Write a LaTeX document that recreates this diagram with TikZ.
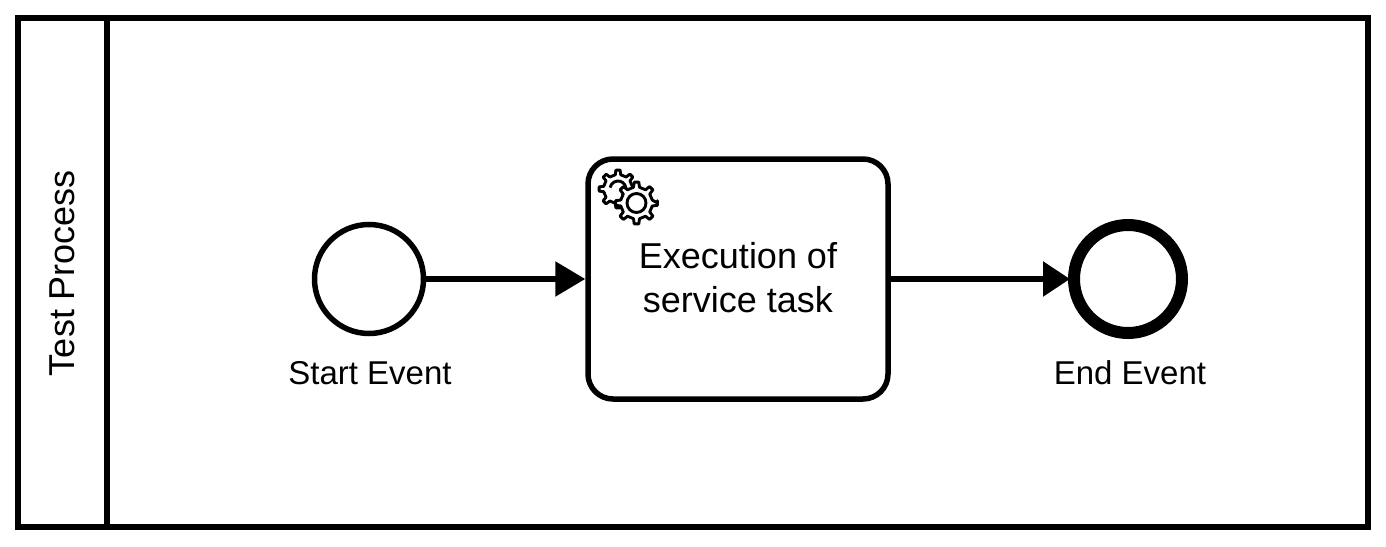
\documentclass[tikz,border=0pt]{standalone}
\usepackage{fontspec}
\setmainfont{Liberation Sans}
\usetikzlibrary{arrows.meta}
\newcommand{\gearpath}[4]{% outer r, root r, teeth, extra options
  \pgfmathsetmacro{\gstep}{360/#3}
  \draw[gearline,#4] (0:#1) \foreach \i in {1,...,#3}{
    \pgfextra{\pgfmathsetmacro{\ga}{(\i-1)*\gstep}}
    -- ({\ga-0.14*\gstep}:#1) -- ({\ga+0.14*\gstep}:#1)
    -- ({\ga+0.24*\gstep}:#2) -- ({\ga+0.76*\gstep}:#2)
  } -- cycle;
}
\tikzset{
  x=1pt,y=-1pt,
  frameline/.style={draw=black,line width=6pt,line join=miter},
  startevent/.style={circle,draw=black,fill=white,line width=5.5pt,minimum size=109pt,inner sep=0pt},
  endevent/.style={circle,draw=black,fill=white,line width=12pt,minimum size=108pt,inner sep=0pt},
  taskbox/.style={rectangle,rounded corners=25pt,draw=black,fill=white,line width=5.5pt,minimum width=300pt,minimum height=240pt,inner sep=0pt},
  flowa/.style={line width=5.5pt,-{Triangle[length=30pt,width=34pt]}},
  flowb/.style={line width=5.5pt,shorten >=-2pt,-{Triangle[length=27pt,width=34pt]}},
  biglabel/.style={font=\fontsize{36}{44}\selectfont,align=center,inner sep=0pt},
  smalllabel/.style={font=\fontsize{33}{40}\selectfont,inner sep=0pt},
  gearline/.style={draw=black,fill=white,line width=2.9pt,line join=round},
  gearring/.style={draw=black,line width=2.9pt},
}
\begin{document}
\begin{tikzpicture}
\useasboundingbox (0,0) rectangle (1386,546);
\fill[white] (0,0) rectangle (1386,546);
\draw[frameline] (18,18) rectangle (1368,527);
\draw[frameline] (107,18) -- (107,527);
\node[biglabel,rotate=90] (title) at (62,273) {Test Process};
\node[startevent] (start) at (369,279) {};
\node[taskbox] (task) at (738,279) {};
\node[endevent] (end) at (1128,279) {};
\node[biglabel] (tasklabel) at (738,278) {Execution of\\service task};
\node[smalllabel] (startlabel) at (370,373) {Start Event};
\node[smalllabel] (endlabel) at (1130,373) {End Event};
\begin{scope}[shift={(618,189)}]
  \gearpath{19}{14.5}{8}{}
  \draw[gearring] (60:8) arc[start angle=60,end angle=-170,radius=8];
\end{scope}
\begin{scope}[shift={(636.5,203)}]
  \gearpath{21}{16}{8}{}
  \draw[gearring] (0,0) circle[radius=9.5];
\end{scope}
\draw[flowa] (start) -- (task);
\draw[flowb] (task) -- (end);
\end{tikzpicture}
\end{document}
